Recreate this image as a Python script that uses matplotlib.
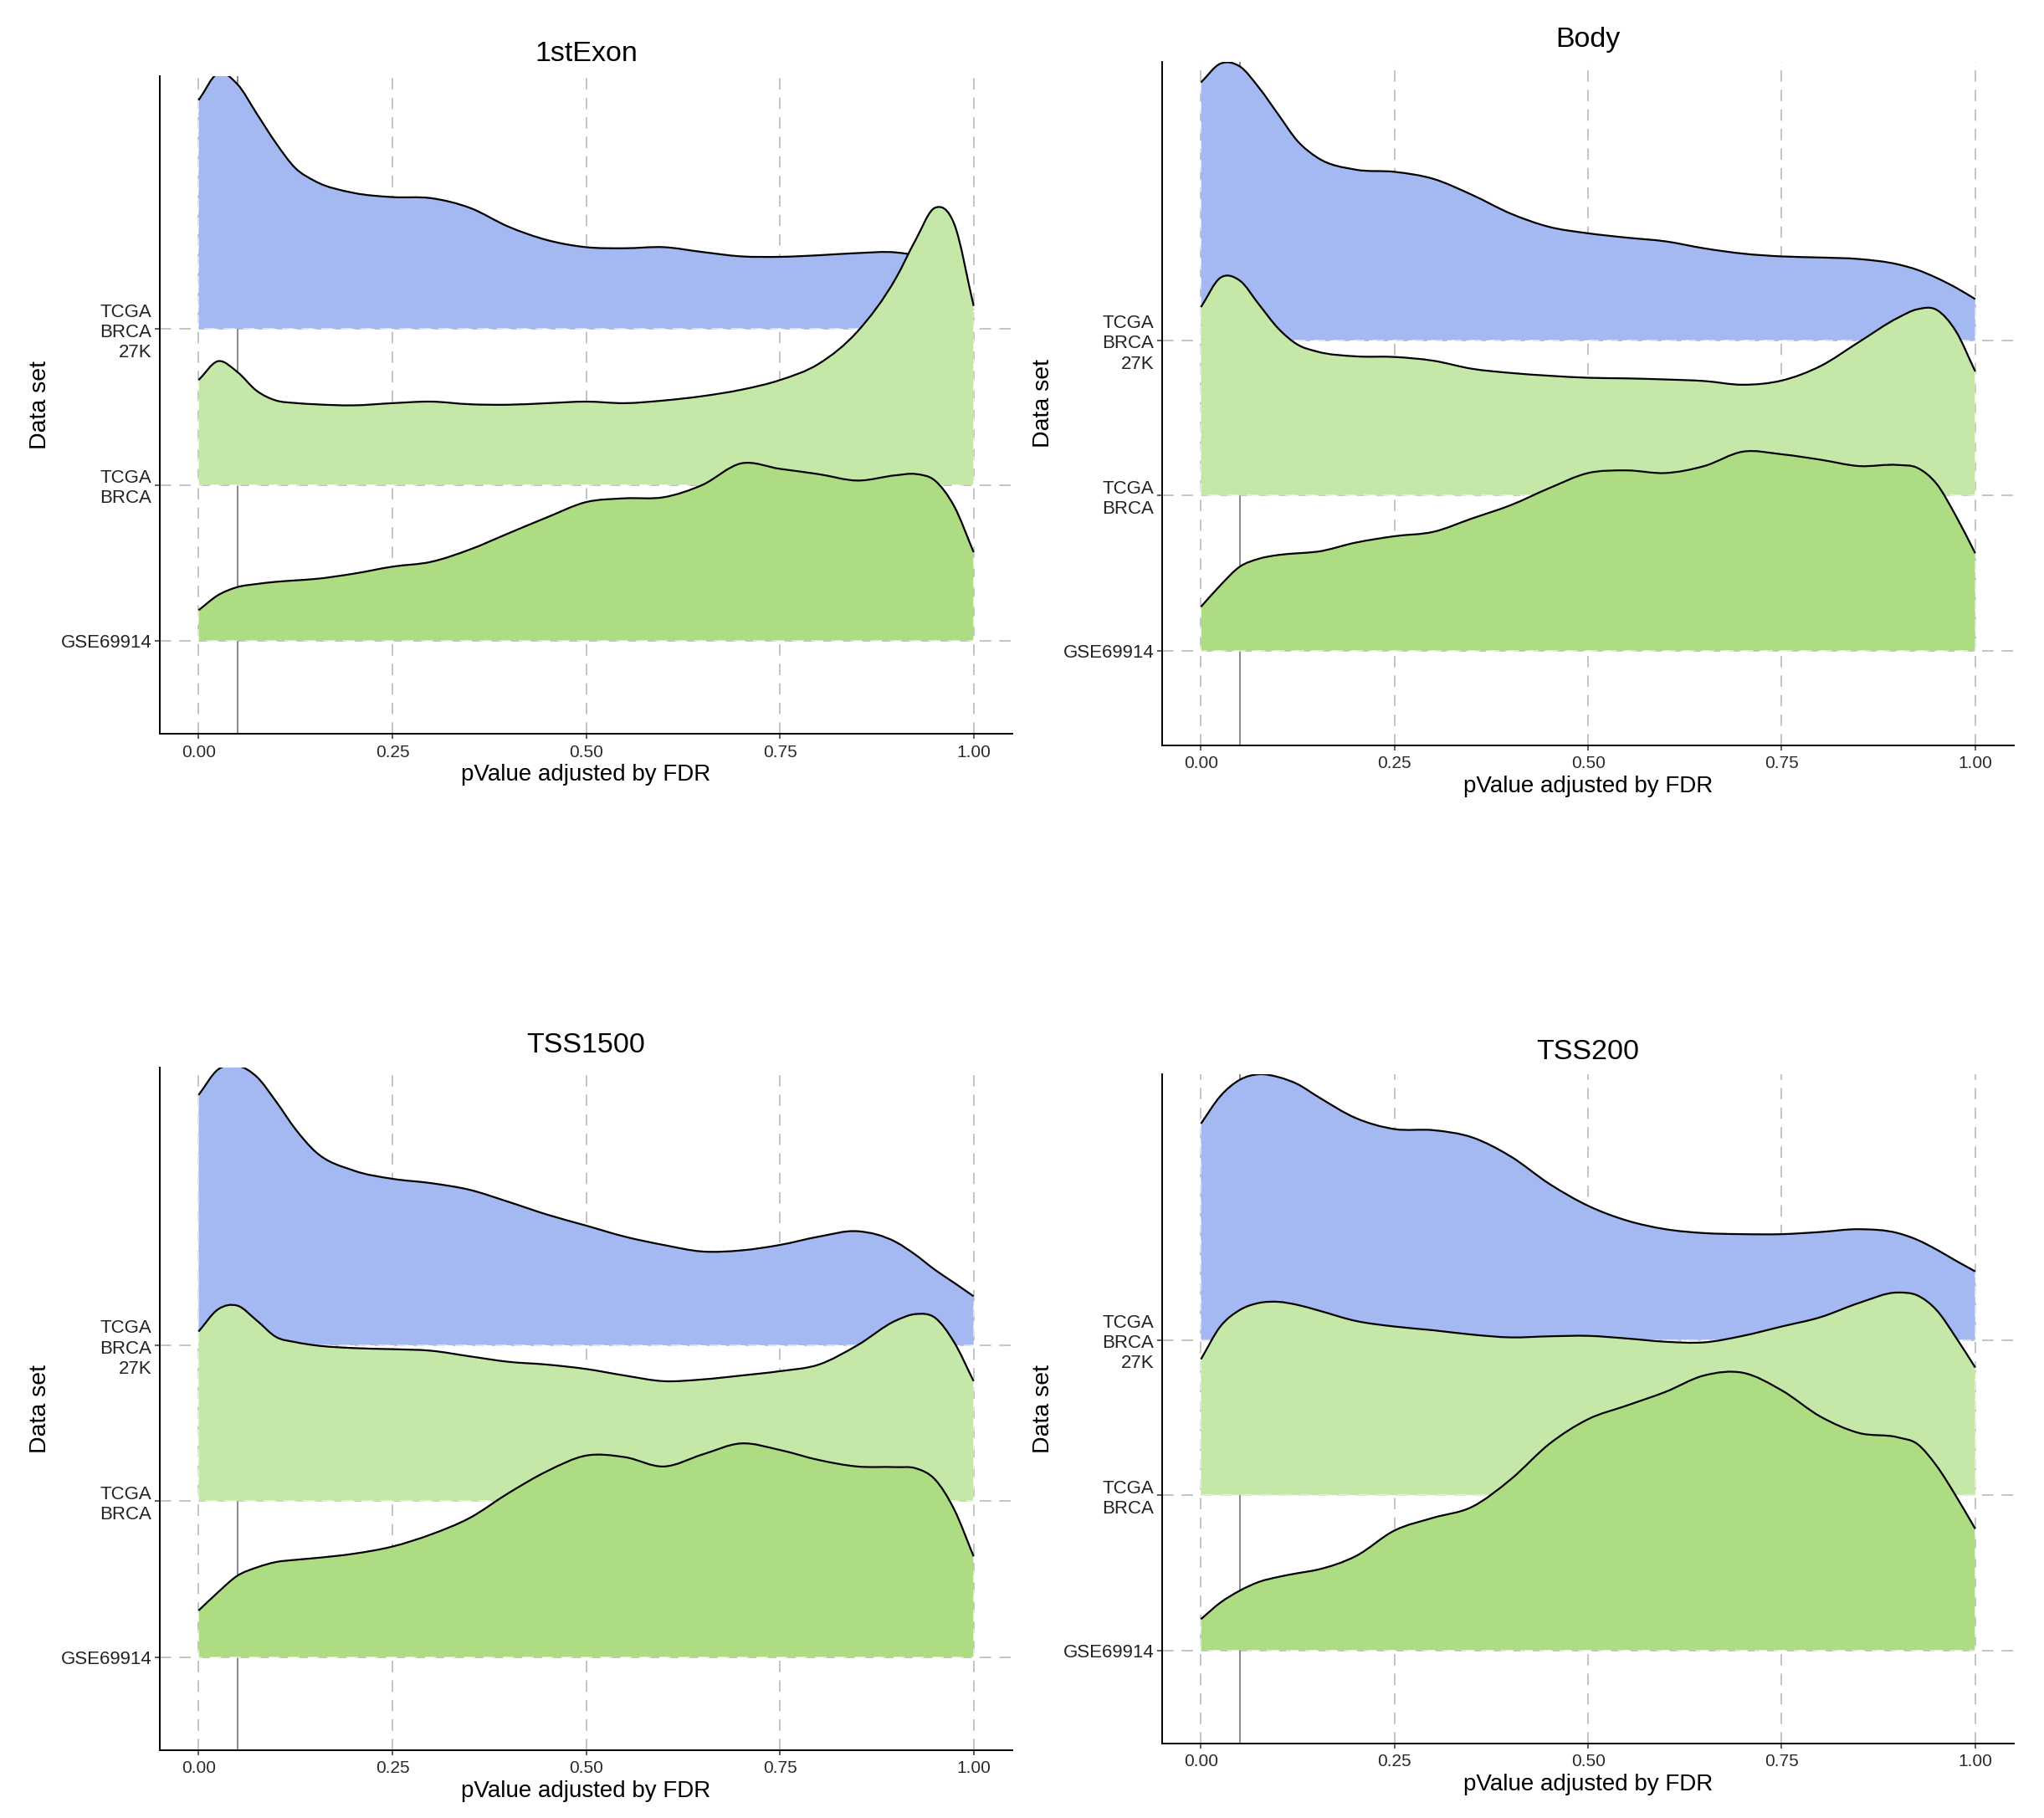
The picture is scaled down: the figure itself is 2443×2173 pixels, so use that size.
import numpy as np
import matplotlib

matplotlib.use("Agg")
import matplotlib.pyplot as plt
from matplotlib.path import Path
from matplotlib.patches import PathPatch

plt.rcParams["font.family"] = ["Liberation Sans", "DejaVu Sans"]

# --- data ------------------------------------------------------------------
# ridge rows, bottom to top (y = 1, 2, 3)
DATASETS = ["GSE69914", "TCGA\nBRCA", "TCGA\nBRCA\n27K"]
FILLS = ["#ADDC82", "#C5E8A9", "#A4B8F2"]
REGIONS = ["1stExon", "Body", "TSS1500", "TSS200"]
X_TICKS = [0.0, 0.25, 0.5, 0.75, 1.0]
X_TICK_LABELS = ["0.00", "0.25", "0.50", "0.75", "1.00"]
CUTOFF = 0.05

# x positions (adjusted p-value) where the ridge heights were read
PVAL = [0, .025, .05, .075, .1, .125, .15, .2, .25, .3, .35, .4, .45, .5,
        .55, .6, .65, .7, .75, .8, .85, .9, .925, .95, .975, 1.0]

# ridge heights, in units of row spacing
EXON1_GSE = [0.197, 0.293, 0.345, 0.365, 0.379, 0.388, 0.397, 0.431, 0.476, 0.507,
             0.586, 0.690, 0.793, 0.890, 0.914, 0.921, 1.0, 1.138, 1.103, 1.069,
             1.028, 1.062, 1.07, 1.028, 0.862, 0.569]
EXON1_BRCA = [0.672, 0.793, 0.724, 0.603, 0.541, 0.525, 0.517, 0.510, 0.524, 0.534,
              0.517, 0.514, 0.524, 0.534, 0.524, 0.541, 0.569, 0.610, 0.672, 0.776,
              0.983, 1.328, 1.569, 1.776, 1.672, 1.147]
EXON1_27K = [1.466, 1.638, 1.569, 1.38, 1.19, 1.03, 0.948, 0.872, 0.845, 0.838,
             0.776, 0.655, 0.569, 0.524, 0.517, 0.524, 0.493, 0.465, 0.462, 0.472,
             0.486, 0.49, 0.47, 0.42, 0.28, 0.12]

BODY_GSE = [0.283, 0.421, 0.541, 0.593, 0.617, 0.628, 0.638, 0.697, 0.738, 0.766,
            0.852, 0.938, 1.048, 1.145, 1.162, 1.145, 1.190, 1.283, 1.266, 1.231,
            1.190, 1.197, 1.179, 1.076, 0.869, 0.628]
BODY_BRCA = [1.214, 1.403, 1.386, 1.231, 1.076, 0.972, 0.928, 0.897, 0.893, 0.869,
             0.817, 0.790, 0.772, 0.759, 0.755, 0.748, 0.738, 0.714, 0.741, 0.834,
             0.990, 1.145, 1.2, 1.197, 1.059, 0.8]
BODY_27K = [1.662, 1.783, 1.766, 1.628, 1.455, 1.283, 1.179, 1.1, 1.086, 1.041,
            0.938, 0.817, 0.731, 0.690, 0.662, 0.638, 0.593, 0.559, 0.541, 0.534,
            0.524, 0.490, 0.455, 0.403, 0.34, 0.266]

TSS1500_GSE = [0.300, 0.417, 0.523, 0.576, 0.611, 0.625, 0.636, 0.664, 0.710, 0.788,
               0.894, 1.053, 1.194, 1.293, 1.283, 1.223, 1.300, 1.371, 1.329, 1.265,
               1.223, 1.219, 1.212, 1.141, 0.947, 0.647]
TSS1500_BRCA = [1.088, 1.23, 1.254, 1.159, 1.053, 1.02, 1.0, 0.982, 0.975, 0.965,
                0.929, 0.894, 0.876, 0.848, 0.806, 0.770, 0.781, 0.806, 0.834, 0.876,
                1.0, 1.159, 1.2, 1.177, 1.018, 0.770]
TSS1500_27K = [1.604, 1.767, 1.792, 1.721, 1.562, 1.385, 1.244, 1.12, 1.067, 1.039,
               0.996, 0.919, 0.837, 0.767, 0.696, 0.643, 0.601, 0.608, 0.643, 0.696,
               0.731, 0.661, 0.58, 0.484, 0.40, 0.314]

TSS200_GSE = [0.201, 0.307, 0.384, 0.441, 0.473, 0.497, 0.519, 0.607, 0.772, 0.854,
              0.924, 1.101, 1.330, 1.489, 1.577, 1.665, 1.771, 1.788, 1.675, 1.506,
              1.400, 1.372, 1.330, 1.189, 0.995, 0.783]
TSS200_BRCA = [0.875, 1.086, 1.192, 1.238, 1.245, 1.225, 1.192, 1.122, 1.086, 1.062,
               1.034, 1.016, 1.023, 1.026, 1.009, 0.988, 0.984, 1.026, 1.086, 1.146,
               1.238, 1.305, 1.287, 1.192, 1.016, 0.822]
TSS200_27K = [1.393, 1.570, 1.675, 1.711, 1.693, 1.647, 1.570, 1.429, 1.358, 1.351,
              1.305, 1.182, 1.005, 0.864, 0.769, 0.713, 0.688, 0.681, 0.681, 0.695,
              0.713, 0.688, 0.645, 0.582, 0.51, 0.441]

HEIGHTS = {
    "1stExon": [EXON1_GSE, EXON1_BRCA, EXON1_27K],
    "Body": [BODY_GSE, BODY_BRCA, BODY_27K],
    "TSS1500": [TSS1500_GSE, TSS1500_BRCA, TSS1500_27K],
    "TSS200": [TSS200_GSE, TSS200_BRCA, TSS200_27K],
}

# --- layout (figure fractions) and y ranges ---------------------------------
AX_POS = {
    "1stExon": [0.0782, 0.5964, 0.4171, 0.3617],
    "Body": [0.5686, 0.5900, 0.4167, 0.3760],
    "TSS1500": [0.0782, 0.0373, 0.4171, 0.3755],
    "TSS200": [0.5686, 0.0410, 0.4167, 0.3680],
}
Y_RANGE = {
    "1stExon": (0.405, 4.62),
    "Body": (0.39, 4.795),
    "TSS1500": (0.405, 4.78),
    "TSS200": (0.40, 4.71),
}

GRID_KW = dict(color="#C4C4C4", lw=1.4, ls=(0, (7, 5)), zorder=0)


def ridge_curve(x, h, base):
    """Smooth top line of a ridge as a cubic Bezier path (Hermite tangents)."""
    x = np.asarray(x, float)
    y = base + np.asarray(h, float)
    dx = np.diff(x)
    d = np.diff(y) / dx
    m = np.empty_like(y)
    m[0], m[-1] = d[0], d[-1]
    m[1:-1] = (dx[1:] * d[:-1] + dx[:-1] * d[1:]) / (dx[:-1] + dx[1:])
    verts = [(x[0], y[0])]
    codes = [Path.MOVETO]
    for i in range(len(x) - 1):
        k = dx[i] / 3
        verts += [(x[i] + k, y[i] + m[i] * k),
                  (x[i + 1] - k, y[i + 1] - m[i + 1] * k),
                  (x[i + 1], y[i + 1])]
        codes += [Path.CURVE4] * 3
    return verts, codes


def draw_panel(ax, region):
    lo, hi = Y_RANGE[region]
    ax.set_xlim(-0.05, 1.05)
    ax.set_ylim(lo, hi)

    for xt in X_TICKS:
        ax.axvline(xt, **GRID_KW)
    for yb in range(1, len(DATASETS) + 1):
        ax.axhline(yb, **GRID_KW)
    ax.axvline(CUTOFF, color="#8C8C8C", lw=1.5, zorder=0.5)

    # top ridge first so the lower rows overlap it
    for idx in reversed(range(len(DATASETS))):
        base = idx + 1
        z = 2 + (len(DATASETS) - idx) * 2
        verts, codes = ridge_curve(PVAL, HEIGHTS[region][idx], base)
        fill_path = Path(verts + [(PVAL[-1], base), (PVAL[0], base), verts[0]],
                         codes + [Path.LINETO, Path.LINETO, Path.CLOSEPOLY])
        ax.add_patch(PathPatch(fill_path, facecolor=FILLS[idx], edgecolor="none",
                               zorder=z))
        # faint edge dashes where the grid sits under the polygon border
        ax.plot([PVAL[0], PVAL[0], PVAL[-1], PVAL[-1]],
                [verts[0][1], base, base, verts[-1][1]],
                color="white", alpha=0.55, lw=1.4, ls=(0, (7, 5)), zorder=z + 0.2)
        ax.add_patch(PathPatch(Path(verts, codes), facecolor="none",
                               edgecolor="black", lw=1.6, zorder=z + 0.5))

    ax.set_xticks(X_TICKS)
    ax.set_xticklabels(X_TICK_LABELS)
    ax.set_yticks(range(1, len(DATASETS) + 1))
    ax.set_yticklabels(DATASETS)
    ax.tick_params(axis="x", labelsize=15, length=4, width=1.1, pad=5,
                   color="#333333", labelcolor="#2a2a2a")
    ax.tick_params(axis="y", labelsize=16, length=4, width=1.1, pad=3,
                   color="#333333", labelcolor="#222222")
    for s in ("top", "right"):
        ax.spines[s].set_visible(False)
    for s in ("left", "bottom"):
        ax.spines[s].set_linewidth(1.4)
        ax.spines[s].set_color("black")

    ax.set_xlabel("pValue adjusted by FDR", fontsize=20, labelpad=3)
    ax.set_ylabel("Data set", fontsize=20.5, labelpad=8)
    ax.set_title(region, fontsize=24.5, pad=13)


fig = plt.figure(figsize=(24.43, 21.73), dpi=100)
for region in REGIONS:
    ax = fig.add_axes(AX_POS[region])
    draw_panel(ax, region)

fig.savefig("out.png", dpi=100, facecolor="white")
